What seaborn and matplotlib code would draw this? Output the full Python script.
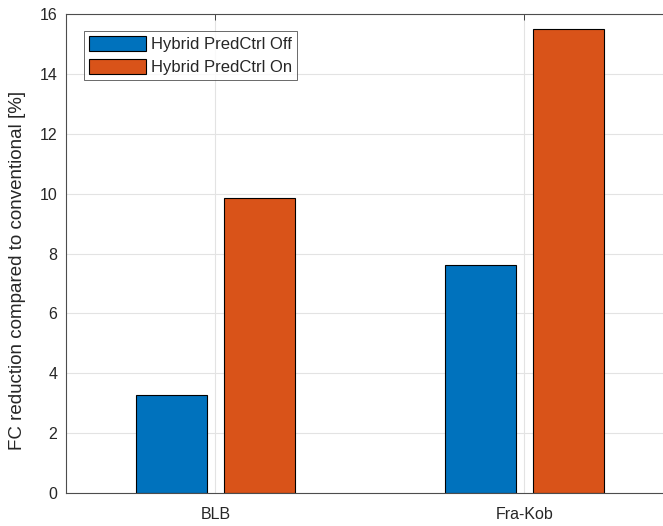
import matplotlib
matplotlib.use("Agg")
import matplotlib.pyplot as plt
import seaborn as sns
import pandas as pd

routes = ["BLB", "Fra-Kob"]
pred_off = [3.27, 7.62]
pred_on = [9.85, 15.5]
series_names = ["Hybrid PredCtrl Off", "Hybrid PredCtrl On"]
colors = ["#0072BD", "#D95319"]
yticks = [0, 2, 4, 6, 8, 10, 12, 14, 16]

df = pd.DataFrame({
    "route": routes * 2,
    "value": pred_off + pred_on,
    "series": [series_names[0]] * len(routes) + [series_names[1]] * len(routes),
})

sns.set_style("white")
plt.rcParams["font.family"] = ["Liberation Sans", "DejaVu Sans"]

fig = plt.figure(figsize=(6.63, 5.26), dpi=100)
# axes extends past the right edge (cropped like the reference)
left_px, right_px = 65.5, 65.5 + 2 * 309
ax = fig.add_axes([left_px / 663, 33 / 526, (right_px - left_px) / 663, (493 - 14) / 526])

sns.barplot(data=df, x="route", y="value", hue="series", palette=colors,
            width=0.57, gap=0.19, edgecolor="black", linewidth=0.8,
            ax=ax, saturation=1)

ax.set_xlim(-0.485, 1.515)
ax.set_ylim(0, 16)
ax.set_yticks(yticks)
ax.set_xlabel("")
ax.set_ylabel("")
fig.text(18 / 663, 1 - 270 / 526, "FC reduction compared to conventional [%]",
         rotation=90, ha="center", va="center", fontsize=13.5, color="#262626")
ax.grid(True, color="#e3e3e3", linewidth=0.8)
ax.set_axisbelow(True)
ax.tick_params(axis="both", direction="in", length=4, labelsize=11.5, colors="#262626", width=0.6,
               top=True, right=True)
ax.tick_params(axis="y", pad=6)
ax.tick_params(axis="x", pad=10)
for s in ax.spines.values():
    s.set_color("#4d4d4d")
    s.set_linewidth(0.8)

leg = ax.legend(loc="upper left", bbox_to_anchor=(0.030, 0.9645), fontsize=12, frameon=True,
                fancybox=False, edgecolor="#262626", borderpad=0.3, handlelength=3.4,
                handleheight=1.0, labelspacing=0.42, handletextpad=0.3, borderaxespad=0.0)
leg.get_frame().set_linewidth(0.6)

fig.savefig("out.png", dpi=100)
